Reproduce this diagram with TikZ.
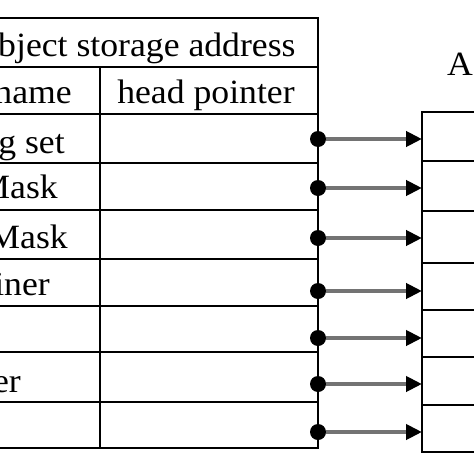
\documentclass[tikz,border=0pt]{standalone}
\usepackage{fontspec}
\setmainfont{Liberation Serif}[FakeStretch=1.05]
\usetikzlibrary{arrows.meta}
\tikzset{%
  celltext/.style  = {inner sep=0pt, font=\fontsize{34}{40}\selectfont},%
  tableline/.style = {line width=2pt},%
  knob/.style      = {circle, fill=black, inner sep=0pt, minimum size=16pt},%
  ptr/.style       = {draw=black!55, line width=4pt,%
                      -{Triangle[length=16pt,width=15pt,color=black]}}%
}

\begin{document}
\begin{tikzpicture}[x=1pt,y=-1pt]
		\useasboundingbox (0,0) rectangle (474,474);
		\clip (0,0) rectangle (474,474);
		% object table
		\draw[tableline] (-40,18) -- (318,18) -- (318,448) -- (-40,448);
		\draw[tableline] (100,67) -- (100,448);
		\foreach \y in {67,114,163,210,259,306,352,402}
			\draw[tableline] (-40,\y) -- (318,\y);
		\node[celltext, anchor=base] (title) at (138,56) {object storage address};
		\node[celltext, anchor=base east] (name) at (72,103) {name};
		\node[celltext, anchor=base] (head) at (206,103) {head pointer};
		\node[celltext, anchor=base east] (row1) at (65,153) {g set};
		\node[celltext, anchor=base east] (row2) at (58,198) {Mask};
		\node[celltext, anchor=base east] (row3) at (68,248) {Mask};
		\node[celltext, anchor=base east] (row4) at (50,295) {iner};
		\node[celltext, anchor=base east] (row6) at (21,392) {er};
		% array table
		\node[celltext, anchor=base west] (arr) at (447,75) {A};
		\draw[tableline] (490,112) -- (422,112) -- (422,452) -- (490,452);
		\foreach \y in {161,211,263,310,357,405}
			\draw[tableline] (422,\y) -- (490,\y);
		% head pointers
		\foreach \y [count=\i] in {139,188,238,291,338,384,432} {
			\node[knob] (p\i) at (318,\y) {};
			\coordinate (q\i) at (422,\y);
			\draw[ptr] (p\i) -- (q\i);
		}
	\end{tikzpicture}
\end{document}
